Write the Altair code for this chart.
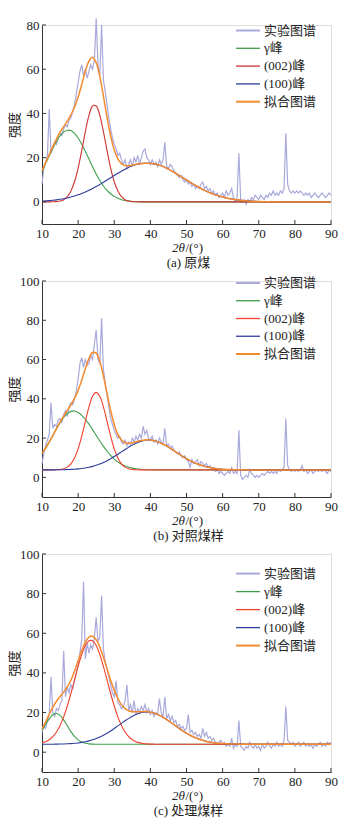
import altair as alt
import pandas as pd
import numpy as np

# ---------------- data ----------------
SERIES = ["实验图谱", "γ峰", "(002)峰", "(100)峰", "拟合图谱"]
SUBTITLES = ["(a) 原煤", "(b) 对照煤样", "(c) 处理煤样"]
X_TICKS = [10, 20, 30, 40, 50, 60, 70, 80, 90]
Y_TICKS_A = [0, 20, 40, 60, 80]
Y_TICKS_BC = [0, 20, 40, 60, 80, 100]

# experimental pattern sampled every 0.5 deg from 10 to 90
EXP_X = list(np.arange(10, 90.01, 0.5))
EXP_A = [8, 15, 18, 21, 42, 22, 25, 27, 26, 30,
         31, 30, 33, 35, 34, 37, 38, 41, 44, 49,
         54, 59, 62, 57, 60, 56, 59, 62, 60, 64,
         83, 62, 57, 80, 55, 50, 44, 38, 33, 29,
         26, 24, 21, 22, 19, 17, 19, 15, 17, 19,
         16, 20, 18, 21, 17, 20, 23, 24, 20, 19,
         17, 19, 17, 18, 16, 19, 17, 19, 27, 16,
         15, 17, 16, 14, 13, 12, 11, 12, 10, 9,
         10, 8, 9, 7, 8, 6, 7, 6, 8, 9,
         6, 7, 5, 6, 4, 5, 3, 4, 2, 3,
         4, 2, 5, 3, 4, 6, 2, 0, 2, 22,
         1, 0, 1, -1, 1, 0, 2, 1, 3, 2,
         1, 3, 2, 1, 3, 2, 4, 3, 5, 3,
         4, 3, 5, 4, 6, 31, 8, 5, 4, 5,
         4, 5, 4, 5, 4, 3, 4, 3, 4, 2,
         3, 4, 3, 2, 3, 4, 3, 2, 3, 4,
         3]
EXP_B = [7, 12, 16, 19, 22, 38, 25, 27, 26, 29,
         30, 28, 32, 34, 31, 36, 38, 37, 40, 44,
         50, 58, 61, 56, 60, 57, 58, 62, 60, 68,
         75, 60, 58, 81, 55, 48, 42, 36, 30, 27,
         24, 22, 20, 21, 18, 17, 19, 16, 18, 17,
         20, 18, 21, 19, 22, 20, 26, 22, 24, 20,
         19, 21, 18, 19, 17, 20, 18, 17, 25, 16,
         17, 15, 16, 14, 13, 12, 13, 11, 10, 11,
         9, 8, 5, 9, 7, 8, 9, 6, 8, 7,
         6, 7, 5, 6, 4, 5, 3, 4, 2, 3,
         2, 1, 2, 3, 2, 5, 2, 3, 2, 24,
         1, -1, 0, 1, 0, 4, 2, 1, 0, 1,
         0, 1, 2, 1, 2, 3, 2, 3, 2, 3,
         2, 4, 3, 4, 5, 30, 6, 4, 3, 4,
         3, 4, 3, 4, 6, 3, 4, 2, 3, 4,
         2, 3, 4, 3, 4, 3, 4, 3, 2, 4,
         3]
EXP_C = [10, 13, 12, 16, 19, 38, 20, 18, 22, 21,
         24, 26, 51, 28, 33, 30, 34, 32, 36, 40,
         44, 50, 57, 86, 47, 55, 50, 54, 52, 58,
         68, 56, 58, 79, 52, 46, 42, 38, 34, 30,
         28, 36, 25, 24, 22, 23, 26, 34, 21, 24,
         20, 26, 19, 22, 20, 23, 21, 24, 20, 22,
         19, 21, 18, 20, 19, 27, 20, 18, 28, 17,
         19, 16, 18, 15, 16, 13, 14, 12, 13, 11,
         12, 19, 10, 11, 9, 10, 8, 9, 7, 12,
         8, 10, 7, 8, 6, 7, 5, 4, 5, 6,
         4, 5, 3, 4, 3, 7, 2, 4, 3, 16,
         3, 2, 1, 3, 2, 5, 3, 2, 4, 2,
         3, 1, 4, 2, 3, 5, 3, 2, 4, 3,
         5, 3, 4, 3, 6, 23, 6, 5, 4, 5,
         3, 4, 5, 3, 4, 5, 3, 4, 3, 4,
         2, 4, 3, 4, 5, 3, 4, 3, 5, 4,
         5]

# fitted curves, read at these angles
FIT_X = list(range(10, 61)) + [62, 64, 66, 68, 70, 80, 90]

G_A = [13.9, 17.3, 20.8, 24.2, 27.3, 29.9, 31.6, 32.4, 32.3, 31.0,
       28.9, 26.1, 22.8, 19.4, 15.9, 12.6, 9.7, 7.2, 5.2, 3.7,
       2.5, 1.6, 1.0, 0.6, 0.4, 0.2, 0.1, 0.1, 0, 0,
       0, 0, 0, 0, 0, 0, 0, 0, 0, 0,
       0, 0, 0, 0, 0, 0, 0, 0, 0, 0,
       0,
       0, 0, 0, 0, 0, 0, 0]
R_A = [0, 0, 0, 0.05, 0.14, 0.4, 1.0, 2.35, 4.9, 9.1,
       15.3, 23.2, 31.8, 39.1, 43.4, 43.4, 39.1, 31.8, 23.2, 15.3,
       9.1, 4.9, 2.35, 1.0, 0.4, 0.14, 0.05, 0, 0, 0,
       0, 0, 0, 0, 0, 0, 0, 0, 0, 0,
       0, 0, 0, 0, 0, 0, 0, 0, 0, 0,
       0,
       0, 0, 0, 0, 0, 0, 0]
B_A = [0.33, 0.44, 0.56, 0.72, 0.92, 1.16, 1.44, 1.79, 2.19, 2.66,
       3.19, 3.8, 4.48, 5.24, 6.06, 6.95, 7.89, 8.9, 9.89, 10.9,
       11.9, 12.95, 13.9, 14.8, 15.6, 16.3, 16.8, 17.2, 17.4, 17.5,
       17.4, 17.2, 16.8, 16.3, 15.6, 14.8, 13.9, 12.95, 11.9, 10.9,
       9.89, 8.9, 7.89, 6.95, 6.06, 5.24, 4.48, 3.8, 3.19, 2.66,
       2.19,
       1.44, 0.92, 0.56, 0.33, 0.19, 0, 0]
O_A = [14.2, 17.7, 21.4, 25.0, 28.4, 31.5, 34.0, 36.5, 39.4, 42.8,
       47.4, 53.1, 59.1, 63.7, 65.4, 63.0, 56.7, 47.9, 38.3, 29.9,
       23.5, 19.5, 17.3, 16.4, 16.4, 16.6, 17.0, 17.3, 17.4, 17.5,
       17.4, 17.2, 16.8, 16.3, 15.6, 14.8, 13.9, 12.95, 11.9, 10.9,
       9.89, 8.9, 7.89, 6.95, 6.06, 5.24, 4.48, 3.8, 3.19, 2.66,
       2.19,
       1.44, 0.92, 0.56, 0.33, 0.19, 0, 0]

G_B = [12.2, 14.9, 18.0, 21.3, 24.7, 27.8, 30.5, 32.5, 33.6, 33.8,
       33.0, 31.6, 29.6, 27.1, 24.3, 21.4, 18.5, 15.8, 13.3, 11.2,
       9.3, 7.9, 6.7, 5.8, 5.2, 4.7, 4.4, 4.2, 4.0, 3.9,
       3.9, 3.8, 3.8, 3.8, 3.8, 3.8, 3.8, 3.8, 3.8, 3.8,
       3.8, 3.8, 3.8, 3.8, 3.8, 3.8, 3.8, 3.8, 3.8, 3.8,
       3.8,
       3.8, 3.8, 3.8, 3.8, 3.8, 3.8, 3.8]
R_B = [3.8, 3.8, 3.8, 3.8, 3.9, 4.0, 4.4, 5.2, 6.9, 9.9,
       14.5, 21.0, 28.5, 35.9, 41.3, 43.3, 41.3, 35.9, 28.5, 21.0,
       14.5, 9.9, 6.9, 5.2, 4.4, 4.0, 3.9, 3.8, 3.8, 3.8,
       3.8, 3.8, 3.8, 3.8, 3.8, 3.8, 3.8, 3.8, 3.8, 3.8,
       3.8, 3.8, 3.8, 3.8, 3.8, 3.8, 3.8, 3.8, 3.8, 3.8,
       3.8,
       3.8, 3.8, 3.8, 3.8, 3.8, 3.8, 3.8]
B_B = [3.8, 3.8, 3.8, 3.8, 3.85, 3.9, 3.9, 4.0, 4.05, 4.15,
       4.3, 4.5, 4.8, 5.15, 5.6, 6.15, 6.8, 7.6, 8.5, 9.5,
       10.6, 11.8, 13.0, 14.2, 15.4, 16.5, 17.4, 18.2, 18.7, 19.0,
       19.0, 18.7, 18.2, 17.4, 16.5, 15.4, 14.2, 13.0, 11.8, 10.6,
       9.5, 8.5, 7.6, 6.8, 6.15, 5.6, 5.15, 4.8, 4.5, 4.3,
       4.15,
       3.95, 3.87, 3.82, 3.8, 3.8, 3.8, 3.8]
O_B = [12.2, 14.9, 18.0, 21.3, 24.8, 28.1, 31.2, 34.1, 36.9, 40.2,
       44.3, 49.5, 55.3, 60.6, 63.6, 63.3, 59.0, 51.7, 42.7, 34.1,
       26.9, 21.9, 19.0, 17.6, 17.4, 17.6, 18.1, 18.6, 18.9, 19.1,
       19.0, 18.7, 18.2, 17.4, 16.5, 15.4, 14.2, 13.0, 11.8, 10.6,
       9.5, 8.5, 7.6, 6.8, 6.15, 5.6, 5.15, 4.8, 4.5, 4.3,
       4.15,
       3.95, 3.87, 3.82, 3.8, 3.8, 3.8, 3.8]

G_C = [11.0, 14.0, 16.8, 18.85, 19.5, 18.55, 16.3, 13.4, 10.4, 7.97,
       6.2, 5.1, 4.5, 4.2, 4.08, 4.03, 4.0, 4.0, 4.0, 4.0,
       4.0, 4.0, 4.0, 4.0, 4.0, 4.0, 4.0, 4.0, 4.0, 4.0,
       4.0, 4.0, 4.0, 4.0, 4.0, 4.0, 4.0, 4.0, 4.0, 4.0,
       4.0, 4.0, 4.0, 4.0, 4.0, 4.0, 4.0, 4.0, 4.0, 4.0,
       4.0,
       4.0, 4.0, 4.0, 4.0, 4.0, 4.0, 4.0]
R_C = [4.7, 5.3, 6.29, 7.85, 10.18, 13.48, 17.8, 23.3, 29.6, 36.5,
       43.3, 49.3, 53.8, 56.2, 56.2, 53.8, 49.3, 43.3, 36.5, 29.6,
       23.3, 17.8, 13.48, 10.18, 7.85, 6.29, 5.3, 4.7, 4.36, 4.18,
       4.08, 4.04, 4.02, 4.01, 4.0, 4.0, 4.0, 4.0, 4.0, 4.0,
       4.0, 4.0, 4.0, 4.0, 4.0, 4.0, 4.0, 4.0, 4.0, 4.0,
       4.0,
       4.0, 4.0, 4.0, 4.0, 4.0, 4.0, 4.0]
B_C = [4.01, 4.02, 4.03, 4.04, 4.07, 4.1, 4.15, 4.23, 4.33, 4.47,
       4.67, 4.93, 5.26, 5.69, 6.23, 6.88, 7.65, 8.56, 9.58, 10.72,
       11.96, 13.26, 14.56, 15.85, 17.06, 18.15, 19.05, 19.7, 20.16, 20.3,
       20.16, 19.7, 19.05, 18.15, 17.06, 15.85, 14.56, 13.26, 11.96, 10.72,
       9.58, 8.56, 7.65, 6.88, 6.23, 5.69, 5.26, 4.93, 4.67, 4.47,
       4.33,
       4.15, 4.07, 4.03, 4.01, 4.0, 4.0, 4.0]
O_C = [11.7, 15.3, 19.1, 22.7, 25.7, 28.1, 30.3, 32.9, 36.3, 40.9,
       46.2, 51.3, 55.6, 58.1, 58.5, 56.7, 53.0, 47.9, 42.1, 36.3,
       31.3, 27.1, 24.0, 22.0, 20.9, 20.4, 20.4, 20.4, 20.5, 20.5,
       20.2, 19.7, 19.1, 18.15, 17.06, 15.85, 14.56, 13.26, 11.96, 10.72,
       9.58, 8.56, 7.65, 6.88, 6.23, 5.69, 5.26, 4.93, 4.67, 4.47,
       4.33,
       4.15, 4.07, 4.03, 4.01, 4.0, 4.0, 4.0]

# ---------------- style ----------------
FONT = "'Liberation Serif', 'Times New Roman', 'Noto Sans CJK SC', serif"
AXC = "#333333"
TXT = "#222222"
C_EXP = "#a9a9dc"
C_G = "#3f9e4a"
C_B = "#2d3d9c"
C_O = "#f68a2e"
PLOT_W = 289


def panel(exp_y, g, r, b, o, h, ymax, yticks, leg_y0, leg_dy, red, subtitle):
    xs = alt.Scale(domain=[10, 90], nice=False, zero=False)
    ys = alt.Scale(domain=[-10, ymax], nice=False, zero=False)
    xaxis = alt.Axis(values=X_TICKS, title=None, ticks=False, grid=False,
                     labelPadding=3, labelFlush=False, labelOverlap=False,
                     domainColor=AXC, domainWidth=1, labelFont=FONT,
                     labelFontSize=13, labelColor=TXT)
    yaxis = alt.Axis(values=yticks, title="强度", ticks=False, grid=False,
                     labelPadding=3, labelFlush=False, labelOverlap=False,
                     domainColor=AXC, domainWidth=1, labelFont=FONT,
                     labelFontSize=13, labelColor=TXT,
                     titleFont=FONT, titleFontSize=13, titleFontWeight="normal",
                     titleColor=TXT, titleAngle=270, titleX=-27.5, titleY=h / 2,
                     titleAlign="center", titleBaseline="middle")
    X = alt.X("x:Q", scale=xs, axis=xaxis)
    Y = alt.Y("y:Q", scale=ys, axis=yaxis)

    layers = []
    exp_df = pd.DataFrame({"x": EXP_X, "y": exp_y})
    layers.append(alt.Chart(exp_df).mark_line(color=C_EXP, strokeWidth=1.2)
                  .encode(x=X, y=Y))
    for vals, col, sw in [(g, C_G, 1.1), (r, red, 1.1), (b, C_B, 1.1), (o, C_O, 1.5)]:
        df = pd.DataFrame({"x": FIT_X, "y": vals})
        layers.append(alt.Chart(df).mark_line(color=col, strokeWidth=sw,
                                               interpolate="catmull-rom")
                      .encode(x=X, y=Y))
    # inward ticks
    layers.append(alt.Chart(pd.DataFrame({"x": X_TICKS})).mark_rule(color=AXC, strokeWidth=1)
                  .encode(x=X, y=alt.value(h), y2=alt.value(h - 4)))
    layers.append(alt.Chart(pd.DataFrame({"y": yticks})).mark_rule(color=AXC, strokeWidth=1)
                  .encode(y=Y, x=alt.value(0), x2=alt.value(4)))
    # legend
    leg_cols = [C_EXP, C_G, red, C_B, C_O]
    leg_sw = [2.0, 1.3, 1.3, 1.3, 2.0]
    for i, name in enumerate(SERIES):
        yy = leg_y0 + i * leg_dy
        d = pd.DataFrame({"label": [name]})
        layers.append(alt.Chart(d).mark_rule(color=leg_cols[i], strokeWidth=leg_sw[i])
                      .encode(x=alt.value(194), x2=alt.value(218), y=alt.value(yy)))
        layers.append(alt.Chart(d).mark_text(align="left", baseline="middle", font=FONT,
                                             fontSize=13, color=TXT)
                      .encode(x=alt.value(222), y=alt.value(yy), text="label:N"))
    # x-axis title and panel caption
    d1 = pd.DataFrame({"label": ["2θ"]})
    d2 = pd.DataFrame({"label": ["/(°)"]})
    d3 = pd.DataFrame({"label": [subtitle]})
    layers.append(alt.Chart(d1).mark_text(align="right", baseline="middle", font=FONT,
                                          fontSize=13, fontStyle="italic", color=TXT)
                  .encode(x=alt.value(143), y=alt.value(h + 24), text="label:N"))
    layers.append(alt.Chart(d2).mark_text(align="left", baseline="middle", font=FONT,
                                          fontSize=13, color=TXT)
                  .encode(x=alt.value(143.5), y=alt.value(h + 24), text="label:N"))
    layers.append(alt.Chart(d3).mark_text(align="center", baseline="middle", font=FONT,
                                          fontSize=13, color=TXT)
                  .encode(x=alt.value(146.5), y=alt.value(h + 39), text="label:N"))
    return alt.layer(*layers).properties(width=PLOT_W, height=h)


pa = panel(EXP_A, G_A, R_A, B_A, O_A, 199, 80, Y_TICKS_A, 5.5, 17.8, "#cf3330", SUBTITLES[0])
pb = panel(EXP_B, G_B, R_B, B_B, O_B, 216, 100, Y_TICKS_BC, 2.0, 17.75, "#f2412f", SUBTITLES[1])
pc = panel(EXP_C, G_C, R_C, B_C, O_C, 218, 100, Y_TICKS_BC, 19.6, 18.0, "#f2412f", SUBTITLES[2])

chart = alt.vconcat(pa, pb, pc, spacing=57, bounds="flush").properties(
    padding={"left": 8, "top": 15, "right": 5, "bottom": 5}
).configure_view(stroke=None).configure(background="white")

chart.save("out.html", embed_options={"renderer": "svg", "actions": False})
